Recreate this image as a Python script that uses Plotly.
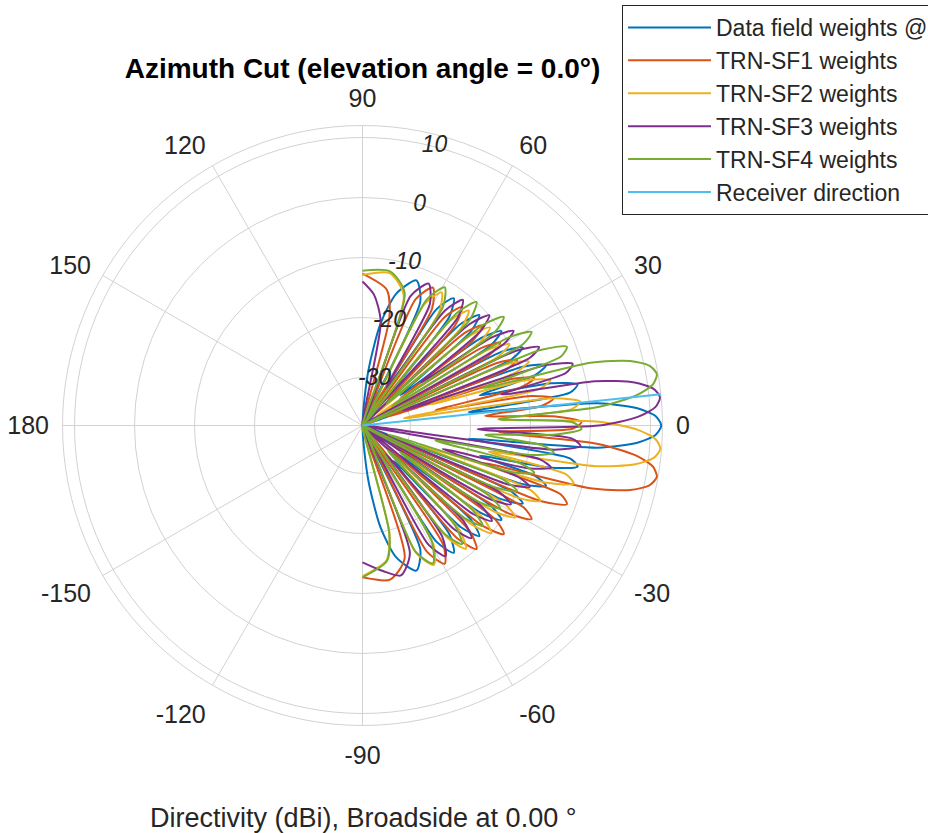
import plotly.graph_objects as go

# ---------------- data (azimuth in degrees, directivity in dBi) ----------------
series_names = ["Data field weights @ receiver", "TRN-SF1 weights", "TRN-SF2 weights",
                "TRN-SF3 weights", "TRN-SF4 weights"]
series_colors = ["#0072BD", "#D95319", "#EDB120", "#7E2F8E", "#77AC30"]

az_data = [-90, -84, -80, -75.64, -69.64, -65.01, -61.04, -57.52, -54.34, -51.38,
           -48.59, -45.95, -43.43, -41.01, -38.68, -36.42, -34.23, -32.09, -30.0, -27.95,
           -25.94, -23.97, -22.02, -20.11, -18.21, -16.34, -14.48, -12.64, -10.81, -8.99,
           -7.18, -5.38, -3.58, -1.79, 0, 1.79, 3.58, 5.38, 7.18, 8.99,
           10.81, 12.64, 14.48, 16.34, 18.21, 20.11, 22.02, 23.97, 25.94, 27.95,
           30.0, 32.09, 34.23, 36.42, 38.68, 41.01, 43.43, 45.95, 48.59, 51.38,
           54.34, 57.52, 61.04, 65.01, 69.64, 75.64, 80, 84, 90]
dbi_data = [-38, -29.0, -20.8, -15.3, -12.2, -15.2, -38, -15.0, -11.9, -14.8,
            -30.1, -14.4, -11.2, -14.0, -29.9, -13.4, -10.0, -12.7, -38, -11.8,
            -8.3, -10.8, -38, -9.5, -5.8, -7.9, -17.8, -5.8, -1.5, -3.0,
            -20.2, 1.4, 7.9, 10.9, 11.8, 10.9, 7.9, 1.4, -20.2, -3.0,
            -1.5, -5.8, -17.8, -7.9, -5.8, -9.5, -38, -10.8, -8.3, -11.8,
            -38, -12.7, -10.0, -13.4, -29.9, -14.0, -11.2, -14.4, -30.1, -14.8,
            -11.9, -15.0, -38, -15.2, -12.2, -15.3, -20.8, -29.0, -38]

az_sf1 = [-90, -79.87, -72.37, -67.21, -62.95, -59.25, -55.91, -52.83, -49.96,
          -47.26, -44.68, -42.21, -39.84, -37.55, -35.32, -33.16, -31.04, -28.97, -26.95,
          -24.95, -22.99, -21.06, -19.15, -17.27, -15.4, -13.56, -11.72, -9.9, -8.08,
          -6.28, -4.48, -2.69, -0.9, 0.9, 2.69, 4.48, 6.28, 8.08, 9.9,
          11.72, 13.56, 15.4, 17.27, 19.15, 21.06, 22.99, 24.95, 26.95, 28.97,
          31.04, 33.16, 35.32, 37.55, 39.84, 42.21, 44.68, 47.26, 49.96, 52.83,
          55.91, 59.25, 62.95, 67.21, 72.37, 76, 79.87, 90]
dbi_sf1 = [-12.7, -11.9, -14.8, -38, -14.4, -11.2, -14.0, -37.6, -13.4,
           -10.0, -12.7, -32.6, -11.8, -8.3, -10.8, -32.1, -9.5, -5.8, -7.9,
           -38, -5.8, -1.5, -3.0, -17.0, 1.4, 7.9, 10.9, 11.8, 10.9,
           7.9, 1.4, -15.3, -3.0, -1.5, -5.8, -17.5, -7.9, -5.8, -9.5,
           -25.6, -10.8, -8.3, -11.8, -33.4, -12.7, -10.0, -13.4, -38, -14.0,
           -11.2, -14.4, -30.4, -14.8, -11.9, -15.0, -32.1, -15.2, -12.2, -15.3,
           -38, -15.3, -12.2, -15.2, -38, -19.5, -15.0, -12.7]

az_sf2 = [-90, -79.87, -76, -72.37, -67.21, -62.95, -59.25, -55.91, -52.83,
          -49.96, -47.26, -44.68, -42.21, -39.84, -37.55, -35.32, -33.16, -31.04, -28.97,
          -26.95, -24.95, -22.99, -21.06, -19.15, -17.27, -15.4, -13.56, -11.72, -9.9,
          -8.08, -6.28, -4.48, -2.69, -0.9, 0.9, 2.69, 4.48, 6.28, 8.08,
          9.9, 11.72, 13.56, 15.4, 17.27, 19.15, 21.06, 22.99, 24.95, 26.95,
          28.97, 31.04, 33.16, 35.32, 37.55, 39.84, 42.21, 44.68, 47.26, 49.96,
          52.83, 55.91, 59.25, 62.95, 67.21, 72.37, 79.87, 90]
dbi_sf2 = [-12.9, -15.2, -19.6, -38, -15.0, -11.9, -14.8, -38, -14.4,
           -11.2, -14.0, -30.7, -13.4, -10.0, -12.7, -28.1, -11.8, -8.3, -10.8,
           -38, -9.5, -5.8, -7.9, -27.8, -5.8, -1.5, -3.0, -16.5, 1.4,
           7.9, 10.9, 11.8, 10.9, 7.9, 1.4, -15.3, -3.0, -1.5, -5.8,
           -31.0, -7.9, -5.8, -9.5, -26.1, -10.8, -8.3, -11.8, -38, -12.7,
           -10.0, -13.4, -35.6, -14.0, -11.2, -14.4, -34.9, -14.8, -11.9, -15.0,
           -38, -15.2, -12.2, -15.3, -38, -15.3, -12.2, -12.9]

az_sf3 = [-90, -82, -75.64, -69.64, -65.01, -61.04, -57.52, -54.34, -51.38,
          -48.59, -45.95, -43.43, -41.01, -38.68, -36.42, -34.23, -32.09, -30.0, -27.95,
          -25.94, -23.97, -22.02, -20.11, -18.21, -16.34, -14.48, -12.64, -10.81, -8.99,
          -7.18, -5.38, -3.58, -1.79, 0, 1.79, 3.58, 5.38, 7.18, 8.99,
          10.81, 12.64, 14.48, 16.34, 18.21, 20.11, 22.02, 23.97, 25.94, 27.95,
          30.0, 32.09, 34.23, 36.42, 38.68, 41.01, 43.43, 45.95, 48.59, 51.38,
          54.34, 57.52, 61.04, 65.01, 69.64, 75.64, 80, 85, 90]
dbi_sf3 = [-15.2, -13.5, -12.2, -15.3, -38, -15.3, -12.2, -15.2, -31.8,
           -15.0, -11.9, -14.8, -38, -14.4, -11.2, -14.0, -38, -13.4, -10.0,
           -12.7, -38, -11.8, -8.3, -10.8, -24.1, -9.5, -5.8, -7.9, -38,
           -5.8, -1.5, -3.0, -18.8, 1.4, 7.9, 10.9, 11.8, 10.9, 7.9,
           1.4, -14.3, -3.0, -1.5, -5.8, -30.8, -7.9, -5.8, -9.5, -38,
           -10.8, -8.3, -11.8, -25.9, -12.7, -10.0, -13.4, -38, -14.0, -11.2,
           -14.4, -30.5, -14.8, -11.9, -15.0, -38, -20.5, -16.1, -14.0]

az_sf4 = [-90, -79.87, -76, -72.37, -67.21, -62.95, -59.25, -55.91, -52.83,
          -49.96, -47.26, -44.68, -42.21, -39.84, -37.55, -35.32, -33.16, -31.04, -28.97,
          -26.95, -24.95, -22.99, -21.06, -19.15, -17.27, -15.4, -13.56, -11.72, -9.9,
          -8.08, -6.28, -4.48, -2.69, -0.9, 0.9, 2.69, 4.48, 6.28, 8.08,
          9.9, 11.72, 13.56, 15.4, 17.27, 19.15, 21.06, 22.99, 24.95, 26.95,
          28.97, 31.04, 33.16, 35.32, 37.55, 39.84, 42.21, 44.68, 47.26, 49.96,
          52.83, 55.91, 59.25, 62.95, 67.21, 72.37, 79.87, 90]
dbi_sf4 = [-12.7, -15.0, -19.5, -38, -15.2, -12.2, -15.3, -38, -15.3,
           -12.2, -15.2, -32.1, -15.0, -11.9, -14.8, -30.4, -14.4, -11.2, -14.0,
           -38, -13.4, -10.0, -12.7, -33.4, -11.8, -8.3, -10.8, -25.6, -9.5,
           -5.8, -7.9, -17.5, -5.8, -1.5, -3.0, -15.3, 1.4, 7.9, 10.9,
           11.8, 10.9, 7.9, 1.4, -17.0, -3.0, -1.5, -5.8, -38, -7.9,
           -5.8, -9.5, -32.1, -10.8, -8.3, -11.8, -32.6, -12.7, -10.0, -13.4,
           -37.6, -14.0, -11.2, -14.4, -38, -14.8, -11.9, -12.2]

receiver_name = "Receiver direction"
receiver_color = "#4DBEEE"
receiver_az = [6.0, 6.0]
receiver_dbi = [-38, 12]

radial_range = [-38, 12]
radial_ticks = [-30, -20, -10, 0, 10]
radial_ticktext = ["-30", "-20", "-10", "0", "10"]
angle_ticks = [0, 30, 60, 90, 120, 150, 180, 210, 240, 270, 300, 330]
angle_ticktext = ["0", "30", "60", "90", "120", "150", "180", "-150", "-120", "-90", "-60", "-30"]

title_text = "Azimuth Cut (elevation angle = 0.0°)"
caption_text = "Directivity (dBi), Broadside at 0.00 °"

# ---------------- figure ----------------
W, H = 928, 833
FONT = "Liberation Sans, Arial, Helvetica, sans-serif"
GRID = "#d2d2d2"
TXT = "#262626"

all_az = [az_data, az_sf1, az_sf2, az_sf3, az_sf4]
all_dbi = [dbi_data, dbi_sf1, dbi_sf2, dbi_sf3, dbi_sf4]
for a, d in zip(all_az, all_dbi):
    assert len(a) == len(d), (len(a), len(d))

fig = go.Figure()
for name, color, a, d in zip(series_names, series_colors, all_az, all_dbi):
    fig.add_trace(go.Scatterpolar(theta=a, r=d, mode="lines", name=name,
                                  line=dict(color=color, width=2, shape="spline",
                                            smoothing=0.7)))
fig.add_trace(go.Scatterpolar(theta=receiver_az, r=receiver_dbi, mode="lines",
                              name=receiver_name, line=dict(color=receiver_color, width=2)))
# radial tick labels (italic, drawn along the ~75.5 degree direction as in the original)
fig.add_trace(go.Scatterpolar(theta=[75.5] * len(radial_ticks), r=radial_ticks,
                              text=radial_ticktext, mode="text", showlegend=False,
                              hoverinfo="skip",
                              textfont=dict(family=FONT, size=23, color=TXT, style="italic")))

cx = 362.5
fig.update_layout(
    width=W, height=H,
    margin=dict(l=0, r=0, t=0, b=0, autoexpand=False),
    paper_bgcolor="white",
    font=dict(family=FONT, color=TXT),
    title=dict(text="<b>" + title_text + "</b>", x=cx / W, xanchor="center",
               y=1 - 68 / H, yanchor="middle", font=dict(size=28, color="black", family=FONT)),
    polar=dict(
        domain=dict(x=[(cx - 300) / W, (cx + 300) / W], y=[(H - 725.5) / H, (H - 125.5) / H]),
        bgcolor="white",
        radialaxis=dict(range=radial_range, tickvals=radial_ticks, showticklabels=False,
                        ticks="", showline=False, gridcolor=GRID, gridwidth=1,
                        layer="below traces"),
        angularaxis=dict(direction="counterclockwise", rotation=0, tickmode="array",
                         tickvals=angle_ticks, ticktext=angle_ticktext,
                         ticks="outside", ticklen=8, tickcolor="rgba(0,0,0,0)",
                         gridcolor=GRID, gridwidth=1, showline=True, linecolor=GRID,
                         linewidth=1, tickfont=dict(size=25, color=TXT, family=FONT),
                         layer="below traces"),
    ),
    legend=dict(x=622 / W, y=1 - 5 / H, xanchor="left", yanchor="top",
                bgcolor="white", bordercolor=TXT, borderwidth=1,
                font=dict(size=23, color=TXT, family=FONT), itemwidth=83,
                tracegroupgap=0),
    annotations=[dict(text=caption_text, x=cx / W, y=(H - 818) / H, xref="paper", yref="paper",
                      xanchor="center", yanchor="middle", showarrow=False,
                      font=dict(size=27, color=TXT, family=FONT))],
)

fig.write_html("out.html", config={"displayModeBar": False},
               post_script="document.body.style.margin='0px';")
